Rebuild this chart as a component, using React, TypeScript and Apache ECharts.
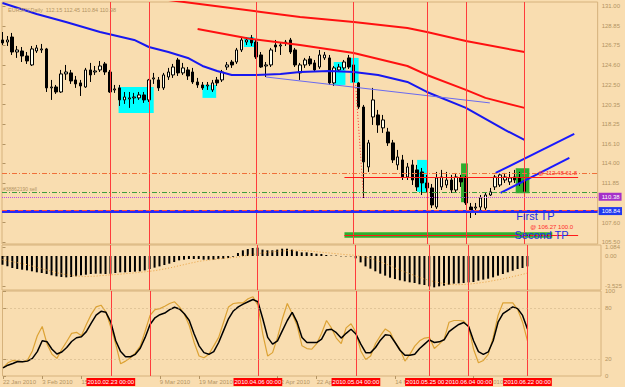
import React, { useEffect, useRef } from "react";
import * as echarts from "echarts";

// ---------- DATA ----------
// Daily bars, index 0 = 22 Jan 2010 ... index 107 = 22 Jun 2010. [open, close, low, high]
const candles: number[][] = [
  [127.33, 127.01, 126.79, 128.19], [127.11, 127.33, 126.68, 127.76], [127.65, 126.03, 125.71, 128.09], [126.03, 126.25, 125.39, 126.68],
  [126.14, 125.6, 124.95, 126.57], [125.6, 125.06, 124.74, 126.03], [124.63, 126.36, 124.52, 126.68], [126.14, 126.47, 125.93, 126.79],
  [126.25, 126.36, 125.93, 126.9], [126.36, 122.15, 121.71, 126.47], [122.15, 122.25, 120.85, 123.01], [122.25, 121.71, 121.5, 122.47],
  [121.71, 123.66, 121.61, 124.09], [123.66, 123.87, 123.01, 124.63], [123.77, 122.9, 122.58, 124.09], [123.01, 122.58, 122.15, 123.44],
  [122.69, 122.36, 121.28, 123.01], [122.25, 124.09, 122.15, 124.31], [124.09, 123.55, 122.79, 124.85], [123.87, 123.98, 123.55, 124.52],
  [124.09, 124.52, 123.87, 125.06], [124.74, 123.87, 123.55, 124.95], [123.87, 121.71, 121.61, 124.09], [121.93, 122.04, 121.61, 122.47],
  [122.15, 120.85, 120.2, 122.47], [120.85, 121.17, 120.42, 121.71], [120.96, 121.07, 119.99, 121.71], [121.07, 121.17, 120.42, 121.61],
  [121.07, 121.39, 120.85, 121.71], [121.39, 120.85, 120.53, 121.71], [120.85, 123.01, 120.63, 123.12], [123.12, 123.23, 122.58, 123.77],
  [123.01, 122.15, 121.82, 123.33], [122.15, 123.55, 121.93, 123.77], [123.33, 123.87, 123.01, 124.31], [123.55, 124.41, 123.23, 124.74],
  [125.17, 123.77, 123.44, 125.39], [123.77, 124.31, 123.55, 124.85], [124.09, 123.44, 123.01, 124.41], [123.87, 122.79, 122.58, 124.31],
  [122.79, 122.47, 122.15, 123.23], [122.47, 122.15, 121.93, 122.79], [122.36, 122.47, 121.93, 122.79], [121.93, 122.69, 121.71, 123.01],
  [123.01, 122.69, 122.36, 123.33], [123.01, 123.87, 122.79, 124.09], [124.41, 124.63, 124.09, 124.95], [124.95, 124.63, 124.31, 125.17],
  [124.95, 126.25, 124.74, 126.47], [126.25, 127.33, 126.03, 127.55], [127.11, 127.33, 126.79, 127.65], [127.55, 127.01, 126.68, 127.87],
  [127.11, 125.49, 125.28, 127.33], [125.71, 124.41, 124.31, 126.03], [124.52, 124.63, 123.33, 124.95], [124.63, 126.25, 124.41, 126.47],
  [126.79, 126.57, 126.03, 127.33], [126.68, 126.79, 125.71, 127.11], [127.01, 127.11, 126.68, 127.33], [127.33, 126.03, 125.82, 127.55],
  [126.25, 124.63, 124.41, 126.47], [123.77, 124.63, 123.01, 124.85], [124.63, 125.17, 124.31, 125.39], [125.28, 124.74, 124.52, 125.6],
  [124.85, 124.09, 123.87, 125.17], [124.41, 125.71, 124.2, 126.25], [125.39, 125.71, 125.17, 126.03], [125.39, 122.69, 122.47, 125.71],
  [122.69, 124.31, 122.36, 124.52], [124.09, 124.41, 123.87, 124.74], [124.31, 124.95, 124.09, 125.17], [125.39, 124.41, 124.2, 125.71],
  [124.63, 122.79, 122.58, 125.17], [122.69, 120.09, 119.88, 122.79], [120.09, 114.15, 110.26, 120.31], [113.61, 116.21, 113.07, 116.53],
  [119.01, 120.85, 118.15, 122.15], [119.23, 118.15, 117.29, 119.77], [117.83, 118.69, 117.29, 119.23], [117.39, 116.21, 115.88, 117.83],
  [116.21, 114.37, 114.04, 116.53], [113.83, 114.69, 113.29, 115.45], [114.37, 112.53, 112.2, 114.91], [112.53, 113.61, 112.2, 114.04],
  [113.83, 112.2, 111.66, 114.37], [113.29, 111.45, 111.01, 113.83], [113.07, 111.88, 110.58, 113.5], [111.88, 111.34, 110.91, 112.75],
  [111.34, 109.5, 109.17, 111.77], [109.28, 112.42, 109.07, 113.07], [111.45, 112.53, 111.12, 113.29], [111.66, 112.2, 111.34, 113.07],
  [112.2, 111.12, 110.8, 112.75], [111.12, 112.53, 110.8, 112.96], [112.42, 111.99, 111.45, 112.75], [112.42, 109.72, 109.5, 112.64],
  [109.28, 108.96, 108.09, 109.72], [109.17, 109.28, 108.42, 109.72], [109.28, 110.26, 108.96, 110.58], [109.17, 110.58, 108.96, 110.8],
  [110.58, 110.91, 110.47, 111.34], [111.45, 112.53, 111.12, 112.75], [111.66, 112.75, 111.45, 112.96], [112.2, 112.53, 111.88, 112.96],
  [111.99, 112.42, 111.66, 113.07], [112.53, 112.2, 111.88, 113.29], [112.42, 111.88, 111.55, 113.07], [112.15, 110.98, 110.84, 112.45],
];

// Moving averages as [bar index, price]
const maBlue: number[][] = [
  [0, 131.33], [7, 130.14], [13, 129.27], [20, 128.19], [27, 127.33], [30, 126.57], [34, 126.03], [38, 125.39],
  [41, 124.52], [44, 123.98], [47, 123.55], [52, 123.55], [57, 123.66], [61, 123.87], [67, 123.98], [72, 123.87],
  [77, 123.55], [83, 122.79], [87, 121.71], [95, 119.99], [103, 117.61], [107, 116.53],
];
const maRedSlow: number[][] = [
  [34, 131.65], [42, 131.11], [53, 130.35], [61, 129.81], [72, 129.27], [83, 128.63], [87, 128.19], [95, 127.22], [107, 126.03],
];
const maRedFast: number[][] = [
  [40, 128.52], [51, 127.44], [61, 126.79], [72, 125.93], [83, 124.52], [87, 123.55], [95, 121.93], [99, 121.07], [107, 119.99],
];

// MACD histogram and signal
const macdHist: number[] = [
  -1.02, -1.22, -1.41, -1.53, -1.61, -1.69, -1.8, -1.92, -2.0, -2.12,
  -2.27, -2.39, -2.47, -2.51, -2.47, -2.39, -2.27, -2.2, -2.12, -2.08,
  -2.08, -2.12, -2.08, -2.0, -1.92, -1.92, -1.88, -1.84, -1.8, -1.69,
  -1.53, -1.37, -1.22, -1.06, -0.9, -0.71, -0.51, -0.43, -0.35, -0.35,
  -0.35, -0.43, -0.43, -0.43, -0.35, -0.31, -0.24, -0.08, 0.35, 0.67,
  0.82, 0.94, 0.98, 0.75, 0.67, 0.67, 0.75, 0.86, 0.86, 0.75,
  0.55, 0.43, 0.43, 0.35, 0.27, 0.24, 0.12, 0.04, 0.04, -0.04,
  -0.04, -0.04, -0.27, -0.75, -1.22, -1.49, -1.8, -2.08, -2.31, -2.55,
  -2.71, -2.86, -2.98, -3.1, -3.18, -3.33, -3.41, -3.57, -3.69, -3.57,
  -3.49, -3.37, -3.25, -3.22, -3.18, -3.1, -3.06, -2.9, -2.78, -2.67,
  -2.51, -2.31, -2.12, -1.92, -1.73, -1.53, -1.41, -1.22,
];
const macdSignal: number[] = [
  -0.43, -0.55, -0.67, -0.78, -0.9, -1.02, -1.18, -1.33, -1.49, -1.65,
  -1.8, -1.96, -2.08, -2.2, -2.27, -2.35, -2.39, -2.41, -2.39, -2.37,
  -2.31, -2.27, -2.22, -2.18, -2.14, -2.08, -2.02, -1.98, -1.92, -1.86,
  -1.8, -1.73, -1.63, -1.53, -1.41, -1.29, -1.14, -1.02, -0.88, -0.76,
  -0.63, -0.55, -0.47, -0.41, -0.35, -0.29, -0.24, -0.18, -0.12, -0.02,
  0.08, 0.18, 0.27, 0.35, 0.43, 0.49, 0.55, 0.59, 0.63, 0.65,
  0.67, 0.65, 0.61, 0.57, 0.51, 0.45, 0.39, 0.33, 0.27, 0.22,
  0.16, 0.12, 0.08, -0.02, -0.14, -0.27, -0.43, -0.67, -0.9, -1.14,
  -1.41, -1.65, -1.88, -2.08, -2.31, -2.51, -2.71, -2.86, -3.02, -3.14,
  -3.24, -3.31, -3.37, -3.37, -3.35, -3.31, -3.25, -3.18, -3.1, -3.02,
  -2.9, -2.8, -2.69, -2.57, -2.43, -2.29, -2.16, -2.0,
];

// Stochastic oscillator
const stochFast: number[] = [
  9.6, 15.5, 18.3, 17.5, 16.7, 18.7, 29.5, 47.4, 58.2, 37.5,
  25.5, 20.7, 31.5, 40.6, 50.2, 51.4, 47.4, 60.6, 72.5, 81.3,
  83.3, 75.3, 57.4, 37.5, 14.3, 17.5, 21.5, 27.1, 35.1, 52.6,
  71.3, 78.1, 79.3, 82.1, 85.3, 87.3, 81.3, 72.5, 59.4, 39.4,
  23.5, 21.5, 25.5, 35.5, 45.4, 63.3, 81.3, 85.3, 86.1, 86.1,
  90.8, 93.2, 83.3, 49.4, 23.5, 27.5, 45.4, 67.3, 85.3, 73.3,
  59.4, 35.5, 32.3, 31.5, 38.2, 50.2, 65.3, 56.6, 44.6, 38.2,
  56.6, 61.4, 51.4, 29.5, 19.5, 23.5, 38.2, 47.4, 55.4, 51.4,
  39.4, 31.5, 17.5, 25.5, 35.1, 41.4, 44.6, 45.4, 32.3, 37.5,
  43.4, 63.3, 65.3, 65.3, 64.5, 57.4, 31.5, 15.5, 18.3, 25.5,
  45.4, 71.3, 86.1, 86.1, 86.1, 78.1, 63.3, 41.4,
];
const stochSlow: number[] = [
  9.6, 12.7, 14.7, 17.1, 16.7, 17.5, 20.7, 28.7, 41.4, 40.2,
  31.5, 25.9, 28.3, 33.5, 40.6, 45.0, 46.2, 52.2, 62.2, 71.7,
  76.1, 74.9, 63.3, 41.4, 28.7, 22.7, 22.7, 25.5, 32.7, 45.4,
  60.6, 68.5, 72.1, 74.1, 78.1, 80.9, 78.9, 73.3, 65.3, 49.4,
  35.5, 27.5, 25.5, 28.7, 39.4, 53.4, 67.3, 76.5, 81.3, 84.5,
  87.3, 90.0, 87.3, 67.3, 45.4, 37.5, 41.4, 53.4, 65.3, 74.9,
  63.3, 45.4, 39.4, 39.4, 39.4, 43.4, 54.2, 55.0, 51.0, 44.6,
  50.2, 55.0, 49.4, 37.5, 27.5, 27.5, 33.5, 42.2, 48.6, 47.8,
  39.4, 30.3, 24.3, 24.3, 25.5, 32.3, 37.5, 42.6, 39.4, 40.2,
  42.6, 52.2, 56.6, 60.6, 62.9, 58.2, 41.4, 28.7, 25.5, 28.3,
  41.4, 63.3, 73.3, 77.3, 81.3, 79.3, 71.3, 55.4,
];

// Vertical event lines (bar index) and their time labels
const eventBars: number[] = [30, 22, 52, 72, 87, 95, 107];
const eventLabels: string[] = [
  "2010.03.05 00:00", "2010.02.23 00:00", "2010.04.06 00:00", "2010.05.04 00:00",
  "2010.05.25 00:00", "2010.06.04 00:00", "2010.06.22 00:00",
];
// Regular date ticks (those not hidden under the event labels)
const dateBars: number[] = [0, 8, 16, 32, 40, 56, 64, 80, 96];
const dateLabels: string[] = [
  "22 Jan 2010", "3 Feb 2010", "15 Feb 2010", "9 Mar 2010", "19 Mar 2010",
  "12 Apr 2010", "22 Apr 2010", "14 May 2010", "7 Jun 2010",
];
// Price scale ticks
const priceTicks: number[] = [131.0, 128.85, 126.75, 124.6, 122.5, 120.35, 118.25, 116.1, 114.0, 111.85, 107.6, 105.5];
const priceBoxes: number[] = [110.98, 110.38, 108.84];
const macdTicks: number[] = [1.084, 0, -3.525];
const macdTickLabels: string[] = ["1.084", "0.00", "-3.525"];
const stochTicks: number[] = [100, 80, 20, 0];

// Horizontal levels
const levelOrange = 112.93;
const levelGreen = 110.88;
const levelPurple = 110.38;
const levelBlue = 108.8;
const levelRedDash = 108.95;
const fib618 = 112.48;
const fib100 = 106.27;

// Drawn objects: [x0, y0, x1, y1] in (bar index, price)
const cyanBoxes: number[][] = [
  [23.8, 122.25, 31.0, 119.45], [41.0, 122.47, 43.8, 121.07], [49.5, 127.65, 51.6, 126.57],
  [67.9, 124.95, 70.3, 122.47], [71.3, 125.39, 73.0, 122.68], [85.0, 114.37, 87.0, 110.91],
];
const greenBoxes: number[][] = [[94.0, 113.99, 95.4, 109.8], [105.2, 113.47, 108.0, 110.77]];
const tpBar: number[] = [70.1, 106.55, 112.7, 105.95];
const fibSpan: number[] = [70.1, 118.0];
const trendPurple: number[][] = [[54.0, 123.33], [99.9, 120.53]];
const channelUpper: number[][] = [[101.1, 112.97], [117.2, 117.18]];
const channelLower: number[][] = [[102.1, 110.81], [116.2, 114.59]];
const fibDiagonal: number[][] = [[72.4, 122.47], [74.0, 110.37]];
const firstTP: number[] = [109.25, 108.36];
const secondTP: number[] = [110.5, 106.26];

// ---------- STYLE ----------
const F = "Liberation Sans, Arial, sans-serif";
const TAN = "#B39463";
const FRAME = "#D6B27C";
const VRED = "#FF3B3B";
const X_MIN = -0.1;
const X_MAX = 122;

function xBase(gridIndex: number): any {
  return {
    type: "value", gridIndex, min: X_MIN, max: X_MAX, position: "bottom",
    axisLine: { show: false }, axisTick: { show: false }, axisLabel: { show: false }, splitLine: { show: false },
  };
}

function buildOption(): any {
  const vLines = eventBars.map((x) => ({ xAxis: x }));
  const idxData = (arr: number[]) => arr.map((v, i) => [i, v]);

  const boxArea = (b: number[], color: string) => [
    { xAxis: b[0], yAxis: b[1], itemStyle: { color, opacity: 1 } },
    { xAxis: b[2], yAxis: b[3] },
  ];

  return {
    animation: false,
    backgroundColor: "transparent",
    textStyle: { fontFamily: F },
    title: {
      text: "EURJPY,Daily  112.15 112.45 110.84 110.98",
      left: 3, top: 2,
      textStyle: { fontSize: 5.5, color: TAN, fontWeight: "normal", fontFamily: F },
    },
    grid: [
      { left: 2, right: 24, top: 2, height: 242, show: true, borderColor: FRAME, borderWidth: 1, backgroundColor: "transparent" },
      { left: 2, right: 24, top: 245, height: 45, show: true, borderColor: FRAME, borderWidth: 1, backgroundColor: "transparent" },
      { left: 2, right: 24, top: 291, height: 85, show: true, borderColor: FRAME, borderWidth: 1, backgroundColor: "transparent" },
    ],
    xAxis: [
      xBase(0),
      xBase(1),
      {
        ...xBase(2),
        axisLabel: {
          show: true, customValues: dateBars, fontSize: 6, color: TAN, align: "left", margin: 3, fontFamily: F,
          formatter: (v: number) => dateLabels[dateBars.indexOf(Math.round(v))] ?? "",
        },
        axisTick: { show: true, customValues: dateBars, length: 3, lineStyle: { color: TAN } },
      },
      {
        ...xBase(2),
        position: "bottom",
        offset: 0,
        z: 5,
        axisLabel: {
          show: true, customValues: eventBars, fontSize: 6, color: "#FFFFFF", align: "center", margin: 2,
          backgroundColor: "#FF0000", padding: [1, 1, 1, 1], fontFamily: F,
          formatter: (v: number) => eventLabels[eventBars.indexOf(Math.round(v))] ?? "",
        },
      },
    ],
    yAxis: [
      {
        type: "value", gridIndex: 0, position: "right", min: 105.284, max: 131.432,
        axisLine: { show: false }, splitLine: { show: false },
        axisTick: { show: true, customValues: priceTicks, length: 3, lineStyle: { color: TAN } },
        axisLabel: { customValues: priceTicks, fontSize: 6, color: TAN, margin: 4, fontFamily: F, formatter: (v: number) => v.toFixed(2) },
      },
      {
        type: "value", gridIndex: 0, position: "right", offset: 0, min: 105.284, max: 131.432,
        axisLine: { show: false }, splitLine: { show: false }, axisTick: { show: false },
        axisLabel: {
          customValues: priceBoxes, fontSize: 6, margin: 1, fontFamily: F,
          formatter: (v: number) => {
            const k = priceBoxes.findIndex((p) => Math.abs(p - v) < 1e-6);
            return `{b${k}|${v.toFixed(2)}}`;
          },
          rich: {
            b0: { backgroundColor: "#BE9A5C", color: "#FFFFFF", padding: [1, 2, 1, 3], fontSize: 6 },
            b1: { backgroundColor: "#A630C8", color: "#FFFFFF", padding: [1, 2, 1, 3], fontSize: 6 },
            b2: { backgroundColor: "#2038F0", color: "#FFFFFF", padding: [1, 2, 1, 3], fontSize: 6 },
          },
        },
      },
      {
        type: "value", gridIndex: 1, position: "right", min: -4.0, max: 1.294,
        axisLine: { show: false }, splitLine: { show: false },
        axisTick: { show: true, customValues: macdTicks, length: 3, lineStyle: { color: TAN } },
        axisLabel: {
          customValues: macdTicks, fontSize: 6, color: TAN, margin: 4, fontFamily: F,
          formatter: (v: number) => macdTickLabels[macdTicks.findIndex((p) => Math.abs(p - v) < 1e-6)] ?? "",
        },
      },
      {
        type: "value", gridIndex: 2, position: "right", min: 0, max: 100,
        axisLine: { show: false }, splitLine: { show: false },
        axisTick: { show: true, customValues: stochTicks, length: 3, lineStyle: { color: TAN } },
        axisLabel: { customValues: stochTicks, fontSize: 6, color: TAN, margin: 4, fontFamily: F },
      },
    ],
    series: [
      {
        type: "candlestick", name: "EURJPY", xAxisIndex: 0, yAxisIndex: 0,
        data: candles.map((c, i) => [i, c[0], c[1], c[2], c[3]]),
        encode: { x: 0, y: [1, 2, 3, 4] },
        barWidth: 3,
        itemStyle: { color: "#FFFDE8", color0: "#000000", borderColor: "#000000", borderColor0: "#000000", borderWidth: 1 },
        markArea: {
          silent: true,
          data: [
            ...cyanBoxes.map((b) => boxArea(b, "#00FFFF")),
            ...greenBoxes.map((b) => boxArea(b, "#2EAE2E")),
            boxArea(tpBar, "#2EAE2E"),
          ],
        },
        markLine: {
          silent: true, symbol: ["none", "none"], label: { show: false },
          data: [
            ...vLines.map((d) => ({ ...d, lineStyle: { color: VRED, width: 1, type: "solid" } })),
            { yAxis: levelOrange, lineStyle: { color: "#F0703A", width: 1, type: [5, 2, 1, 2] } },
            {
              yAxis: levelGreen, lineStyle: { color: "#3E9E3E", width: 1, type: [5, 2, 1, 2] },
              label: { show: true, position: "insideStartTop", formatter: "#38862190 sell", color: TAN, fontSize: 5, distance: 1, fontFamily: F },
            },
            { yAxis: levelPurple, lineStyle: { color: "#C04AE0", width: 1, type: [1, 1] } },
            { yAxis: levelBlue, lineStyle: { color: "#2A2AF5", width: 3, type: "solid" } },
            { yAxis: levelRedDash, lineStyle: { color: "#FF4A3A", width: 1, type: [5, 3] } },
            [
              {
                coord: [fibSpan[0], fib618], lineStyle: { color: "#FF1A1A", width: 1, type: "solid" },
                label: { show: true, position: "insideEndTop", formatter: "@ 112.48 61.8", color: "#FF2A2A", fontSize: 6, distance: 1, fontFamily: F },
              },
              { coord: [fibSpan[1], fib618] },
            ],
            [
              {
                coord: [fibSpan[0], fib100], lineStyle: { color: "#FF1A1A", width: 1, type: "solid" },
                label: { show: true, position: "insideEndTop", formatter: "@ 106.27 100.0", color: "#FF2A2A", fontSize: 6, distance: 5, fontFamily: F },
              },
              { coord: [fibSpan[1], fib100] },
            ],
          ],
        },
        markPoint: {
          silent: true, symbolSize: 0,
          data: [
            { coord: firstTP, label: { show: true, formatter: "First TP", color: "#1E2EE6", fontSize: 11, fontFamily: F } },
            { coord: secondTP, label: { show: true, formatter: "Second TP", color: "#1E2EE6", fontSize: 11, fontFamily: F } },
          ],
        },
      },
      { type: "line", name: "MA slow", xAxisIndex: 0, yAxisIndex: 0, data: maRedSlow, showSymbol: false, lineStyle: { color: "#FF1010", width: 2 }, clip: true },
      { type: "line", name: "MA fast", xAxisIndex: 0, yAxisIndex: 0, data: maRedFast, showSymbol: false, lineStyle: { color: "#FF1010", width: 2 }, clip: true },
      { type: "line", name: "MA blue", xAxisIndex: 0, yAxisIndex: 0, data: maBlue, showSymbol: false, lineStyle: { color: "#1818F0", width: 2 }, clip: true },
      { type: "line", name: "trend", xAxisIndex: 0, yAxisIndex: 0, data: trendPurple, showSymbol: false, lineStyle: { color: "#6A6AF0", width: 1 } },
      { type: "line", name: "chanU", xAxisIndex: 0, yAxisIndex: 0, data: channelUpper, showSymbol: false, lineStyle: { color: "#1A1AFF", width: 2 } },
      { type: "line", name: "chanL", xAxisIndex: 0, yAxisIndex: 0, data: channelLower, showSymbol: false, lineStyle: { color: "#1A1AFF", width: 2 } },
      { type: "line", name: "fibdiag", xAxisIndex: 0, yAxisIndex: 0, data: fibDiagonal, showSymbol: false, lineStyle: { color: "#FF3030", width: 1, type: [1, 2] } },
      {
        type: "bar", name: "MACD", xAxisIndex: 1, yAxisIndex: 2, data: idxData(macdHist), barWidth: 2,
        itemStyle: { color: "#000000" },
        markLine: { silent: true, symbol: ["none", "none"], label: { show: false }, lineStyle: { color: VRED, width: 1, type: "solid" }, data: vLines },
      },
      { type: "line", name: "Signal", xAxisIndex: 1, yAxisIndex: 2, data: idxData(macdSignal), showSymbol: false, lineStyle: { color: "#E8A040", width: 1, type: [1, 2] } },
      {
        type: "line", name: "%D", xAxisIndex: 2, yAxisIndex: 3, data: idxData(stochFast), showSymbol: false,
        lineStyle: { color: "#DCA234", width: 1.2 },
        markLine: {
          silent: true, symbol: ["none", "none"], label: { show: false },
          data: [
            ...vLines.map((d) => ({ ...d, lineStyle: { color: VRED, width: 1, type: "solid" } })),
            { yAxis: 80, lineStyle: { color: "#C9AC80", width: 1, type: [1, 3] } },
            { yAxis: 20, lineStyle: { color: "#C9AC80", width: 1, type: [1, 3] } },
          ],
        },
      },
      { type: "line", name: "%K", xAxisIndex: 2, yAxisIndex: 3, data: idxData(stochSlow), showSymbol: false, lineStyle: { color: "#000000", width: 1.5 } },
    ],
  };
}

export default function App() {
  const ref = useRef<HTMLDivElement>(null);
  useEffect(() => {
    if (!ref.current) return;
    const chart = echarts.init(ref.current, null, { renderer: "svg" });
    chart.setOption(buildOption());
    return () => chart.dispose();
  }, []);
  return (
    <div
      ref={ref}
      style={{ position: "fixed", left: 0, top: 0, width: 625, height: 387, background: "#F9DDB0" }}
    />
  );
}
